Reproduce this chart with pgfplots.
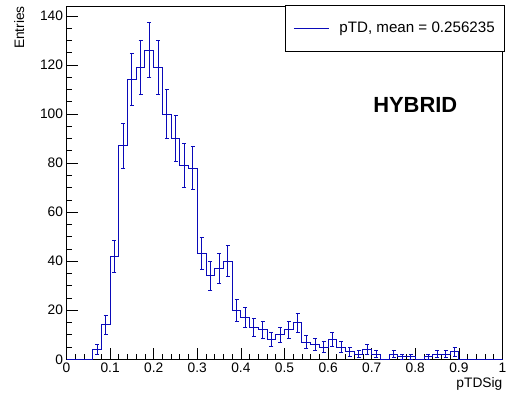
\documentclass[border=0pt]{standalone}
\usepackage{fontspec}
\setmainfont{Liberation Sans}
\usepackage{pgfplots}
\usepackage{pgfplotstable}
\pgfplotsset{compat=1.18}
\definecolor{histblue}{RGB}{10,10,185}

\pgfplotstableread{
x y
0.00 0
0.02 0
0.04 0
0.06 4
0.08 14
0.10 42
0.12 87
0.14 114
0.16 119
0.18 126
0.20 119
0.22 100
0.24 90
0.26 79
0.28 78
0.30 43
0.32 34
0.34 37
0.36 40
0.38 20
0.40 17
0.42 13
0.44 12
0.46 8
0.48 10
0.50 12
0.52 15
0.54 7
0.56 6
0.58 5
0.60 8
0.62 5
0.64 3
0.66 2
0.68 4
0.70 2
0.72 0
0.74 2
0.76 1
0.78 1
0.80 0
0.82 1
0.84 2
0.86 2
0.88 3
0.90 0
0.92 0
0.94 0
0.96 0
0.98 0
1.00 0
}\histdata

\pgfplotstableread{
x y e
0.07 4 2.000
0.09 14 3.742
0.11 42 6.481
0.13 87 9.327
0.15 114 10.677
0.17 119 10.909
0.19 126 11.225
0.21 119 10.909
0.23 100 10.000
0.25 90 9.487
0.27 79 8.888
0.29 78 8.832
0.31 43 6.557
0.33 34 5.831
0.35 37 6.083
0.37 40 6.325
0.39 20 4.472
0.41 17 4.123
0.43 13 3.606
0.45 12 3.464
0.47 8 2.828
0.49 10 3.162
0.51 12 3.464
0.53 15 3.873
0.55 7 2.646
0.57 6 2.449
0.59 5 2.236
0.61 8 2.828
0.63 5 2.236
0.65 3 1.732
0.67 2 1.414
0.69 4 2.000
0.71 2 1.414
0.75 2 1.414
0.77 1 1.000
0.79 1 1.000
0.83 1 1.000
0.85 2 1.414
0.87 2 1.414
0.89 3 1.732
}\errdata

\begin{document}
\begin{tikzpicture}
\path[use as bounding box] (-66.5bp,-35.7bp) rectangle (440.5bp,359.3bp);
\begin{axis}[
  at={(0,0)}, anchor=south west,
  scale only axis, width=436bp, height=353.3bp,
  xmin=0, xmax=1, ymin=0, ymax=144.1,
  xtick={0,0.1,0.2,0.3,0.4,0.5,0.6,0.7,0.8,0.9,1},
  minor x tick num=4,
  ytick={0,20,40,60,80,100,120,140},
  minor y tick num=3,
  tick align=inside, tick pos=left,
  major tick length=11bp, minor tick length=5.5bp,
  every tick/.style={black, line width=0.8bp},
  axis line style={black, line width=0.9bp},
  tick label style={font=\fontsize{13.8}{14}\selectfont},
  /pgf/number format/assume math mode=true,
  xticklabel style={/pgf/number format/fixed},
  xlabel={pTDSig}, ylabel={Entries},
  label style={font=\fontsize{13.8}{14}\selectfont},
  xlabel style={at={(rel axis cs:1,-0.051)}, anchor=north east, inner sep=0pt},
  ylabel style={at={(rel axis cs:-0.0963,1)}, anchor=south east, inner sep=0pt},
  legend style={at={(rel axis cs:1.006,1.003)}, anchor=north east, draw=black, line width=0.8bp,
    font=\fontsize{15.2}{16}\selectfont, inner xsep=8bp, inner ysep=15bp,
    /tikz/every odd column/.append style={column sep=8bp}},
  legend cell align=left,
  legend image code/.code={\draw[histblue, line width=1bp] (0bp,0bp) -- (35bp,0bp);},
]
\addplot[const plot mark left, histblue, line width=1bp] table[x=x, y=y] {\histdata};
\addlegendentry{pTD, mean = 0.256235}
\addplot[forget plot, color=histblue, only marks, mark=*, mark size=0pt,
  error bars/.cd, y dir=both, y explicit,
  error bar style={color=histblue, line width=1bp},
  error mark options={color=histblue, line width=1bp, mark size=2bp, rotate=90}]
  table[x=x, y=y, y error=e] {\errdata};
\node[font=\bfseries\fontsize{22}{22}\selectfont] at (axis cs:0.8,103.6) {HYBRID};
\end{axis}
\end{tikzpicture}
\end{document}
